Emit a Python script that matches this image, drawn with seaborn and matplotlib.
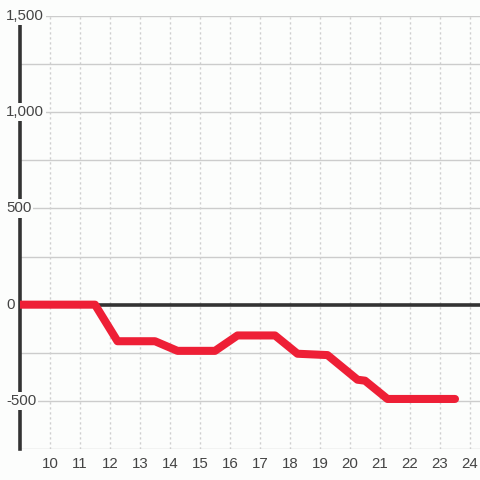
import matplotlib
matplotlib.use("Agg")
import matplotlib.pyplot as plt
import matplotlib.transforms as mtransforms
import seaborn as sns
import pandas as pd

# ---- data ----
hours = [9, 11.5, 12.25, 13.5, 14.25, 15.5, 16.25, 17.5, 18.25, 19.25, 20.25, 20.5, 21.25, 23.5]
values = [0, 0, -190, -190, -240, -240, -160, -160, -255, -262, -390, -395, -490, -490]
x_ticks = list(range(10, 25))
y_label_vals = [1500, 1000, 500, 0, -500]
y_labels = ["1,500", "1,000", "500", "0", "-500"]
y_grid = [-750, -500, -250, 0, 250, 500, 750, 1000, 1250, 1500]

sns.set_style("white")
plt.rcParams["font.family"] = ["Liberation Sans", "DejaVu Sans"]

bg = "#fcfdfc"
fig = plt.figure(figsize=(4.8, 4.8), dpi=100, facecolor=bg)
ax = fig.add_axes([20 / 480, 31 / 480, 460 / 480, 433 / 480], facecolor=bg)

df = pd.DataFrame({"hour": hours, "value": values})

ax.set_xlim(9, 9 + 460 / 30)
ax.set_ylim(-750, 1500)

# grid
for yv in y_grid:
    if yv == 0:
        continue
    ax.axhline(yv, color="#cccccc", lw=1.0, zorder=1)
for xv in x_ticks:
    ax.axvline(xv, color="#cfcfcf", lw=1.0, ls=(0, (1.6, 2.0)), zorder=1)
ax.axhline(0, color="#333333", lw=2.6, zorder=2)

sns.lineplot(data=df, x="hour", y="value", ax=ax, color="#ee1f36",
             linewidth=5.8, zorder=6, sort=False)

for s in ["top", "right", "bottom"]:
    ax.spines[s].set_visible(False)
ax.spines["left"].set_color("#333333")
ax.spines["left"].set_linewidth(2.6)
ax.spines["left"].set_zorder(3)

ax.set_xticks(x_ticks)
ax.set_xticklabels([str(t) for t in x_ticks], fontsize=10.8, color="#444444")
ax.tick_params(axis="x", length=0, pad=6)
ax.set_yticks([])
ax.set_xlabel("")
ax.set_ylabel("")

trans = mtransforms.blended_transform_factory(ax.transAxes, ax.transData)
for v, lab in zip(y_label_vals, y_labels):
    ax.text(-14 / 460, v, lab, transform=trans, ha="left", va="center",
            fontsize=10.8, color="#444444", clip_on=False, zorder=10,
            bbox=dict(facecolor=bg, edgecolor="none", pad=1.5))

fig.savefig("out.png", dpi=100, facecolor=bg)
